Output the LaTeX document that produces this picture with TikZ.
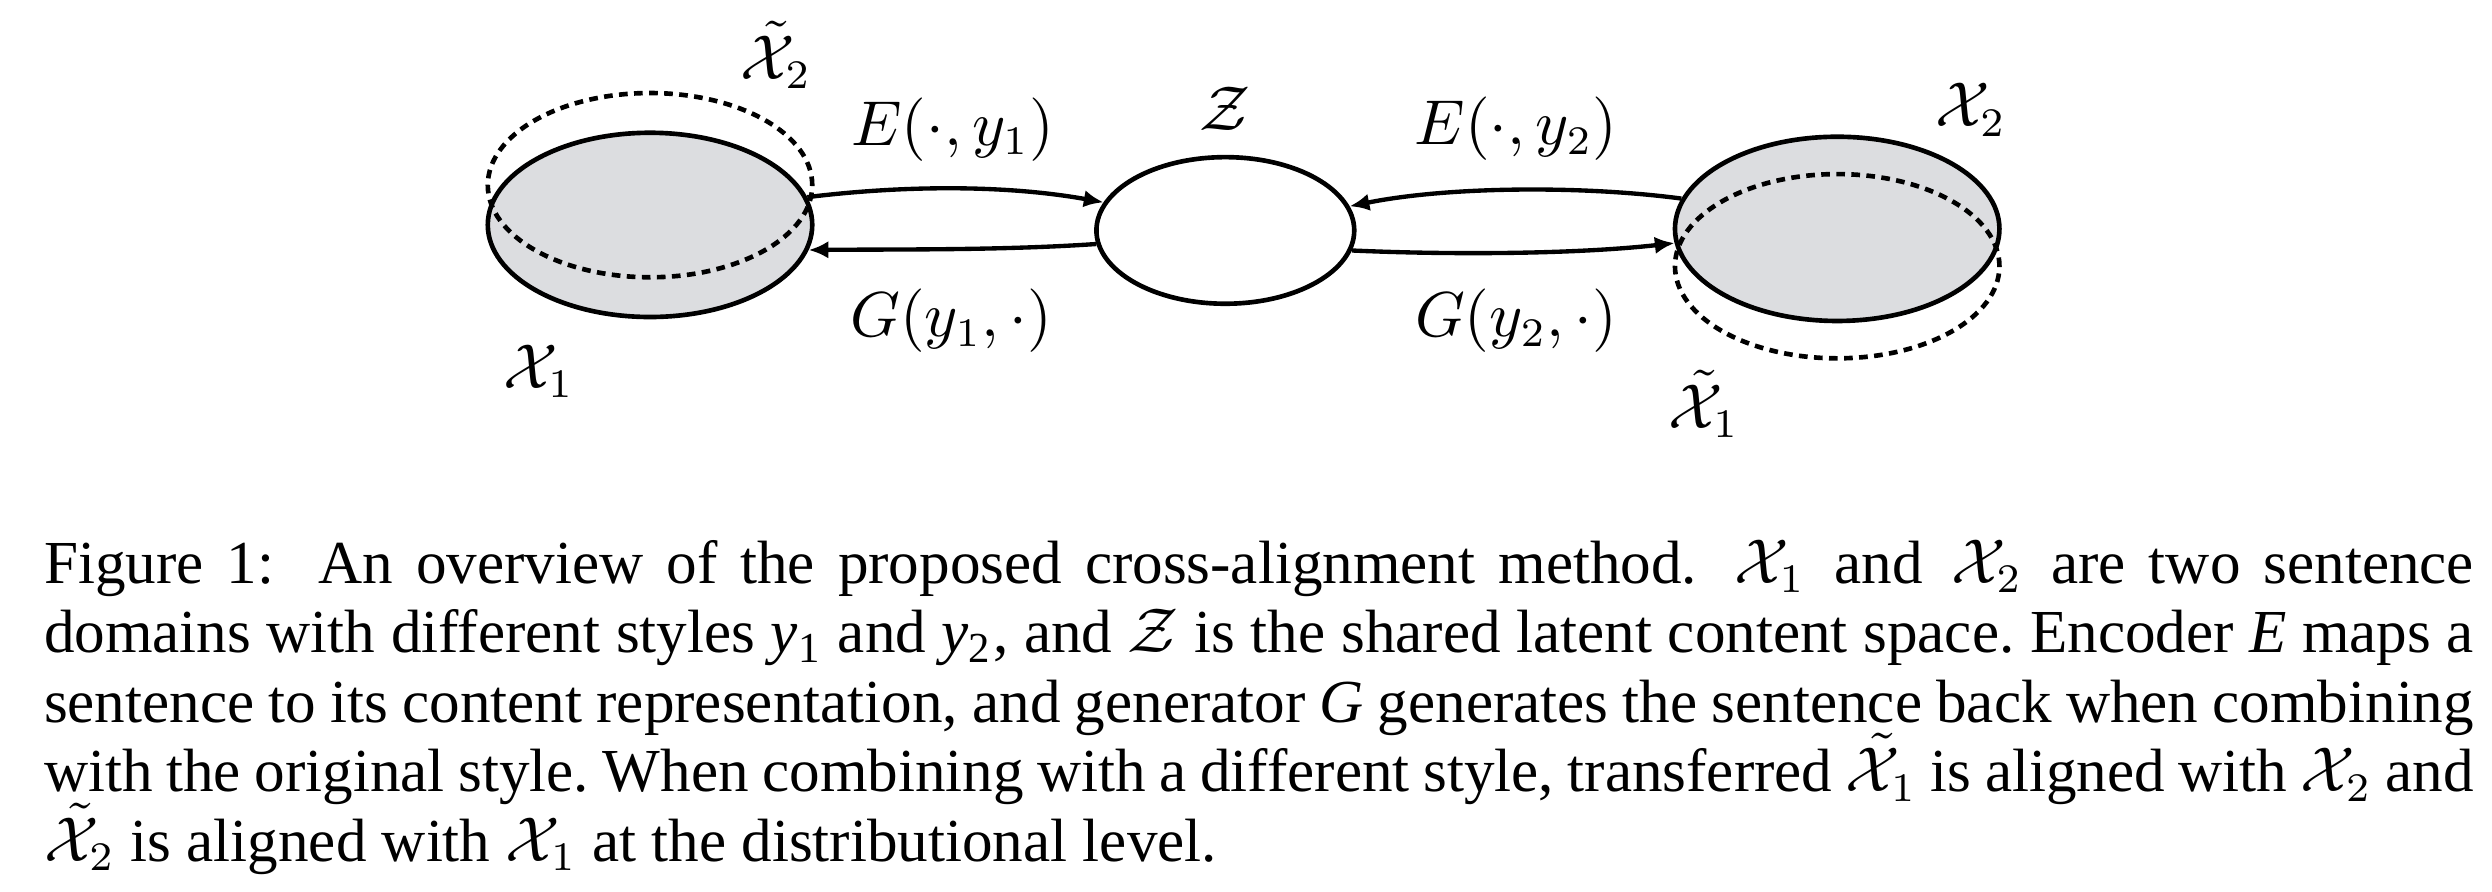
\documentclass[tikz,border=0pt]{standalone}
\usepackage[no-math]{fontspec}
\setmainfont{Liberation Serif}
\usetikzlibrary{shapes.geometric,arrows.meta}
\definecolor{domfill}{RGB}{220,221,224}
\newcommand{\capy}[1]{\mbox{\itshape y}\textsubscript{#1}}
\newcommand{\fullline}[1]{\hbox to 419.4pt{#1}}
\begin{document}
\begin{tikzpicture}[x=0.2743pt,y=-0.2743pt,
  dom/.style={ellipse,draw,line width=0.8pt,fill=domfill,minimum width=56pt,minimum height=31.8pt,inner sep=0pt},
  domdash/.style={ellipse,draw,line width=0.8pt,dash pattern=on 1.5pt off 1.1pt,minimum width=56pt,minimum height=31.8pt,inner sep=0pt},
  lat/.style={ellipse,draw,line width=0.8pt,fill=white,minimum width=44.5pt,minimum height=25.3pt,inner sep=0pt},
  arr/.style={line width=0.75pt,-{Latex[length=3.4pt,width=3pt]}},
  lab/.style={inner sep=0pt,font=\fontsize{10.5}{12}\selectfont},
  capline/.style={inner sep=0pt,anchor=base west,font=\fontsize{10.55}{12.07}\selectfont\frenchspacing}]
\fill[white] (0,0) rectangle (1568,561.25);
\useasboundingbox (0,0) rectangle (1568,561.25);
% domains
\node[dom] (x1) at (409,141.5) {};
\node[domdash] (x2t) at (409,116.5) {};
\node[lat] (z) at (771,145) {};
\node[dom] (x2) at (1156,144) {};
\node[domdash] (x1t) at (1156,167.5) {};
% connectors
\draw[arr] (x1.10) .. controls +(59,-7.3) and +(-63,-11.3) .. (z.167);
\draw[arr] (z.186) .. controls +(-59,4) and +(58,-0.5) .. (x1.-9);
\draw[arr] (x2.169) .. controls +(-61.5,-8.2) and +(62.4,-12.6) .. (z.11);
\draw[arr] (z.-9) .. controls +(62.6,2.8) and +(-62.6,7) .. (x2.185);
% labels
\node[lab] (lx2t) at (488.3,34.5) {$\tilde{\mathcal{X}}_2$};
\node[lab] (le1) at (599.5,81.5) {$E(\cdot,y_1)$};
\node[lab] (lz) at (770.5,68.7) {$\mathcal{Z}$};
\node[lab] (le2) at (954,81) {$E(\cdot,y_2)$};
\node[lab] (lx2) at (1240,69) {$\mathcal{X}_2$};
\node[lab] (lg1) at (598.5,202) {$G(y_1,\cdot)$};
\node[lab] (lg2) at (954,202) {$G(y_2,\cdot)$};
\node[lab] (lx1) at (339,233.5) {$\mathcal{X}_1$};
\node[lab] (lx1t) at (1072,254) {$\tilde{\mathcal{X}}_1$};
% caption
\node[capline] (cap1) at (27,367) {\fullline{Figure 1:\hspace{3.7pt} An overview of the proposed cross-alignment method.\hspace{2.5pt} $\mathcal{X}_1$\hspace{1pt} and\hspace{1pt} $\mathcal{X}_2$\hspace{1pt} are two sentence}};
\node[capline] (cap2) at (27,410.75) {\fullline{domains with different styles \capy{1} and \capy{2}, and $\mathcal{Z}$ is the shared latent content space. Encoder \textit{E} maps a}};
\node[capline] (cap3) at (27,454.5) {\fullline{sentence to its content representation, and generator \textit{G} generates the sentence back when combining}};
\node[capline] (cap4) at (27,498.25) {\fullline{with the original style. When combining with a different style, transferred $\tilde{\mathcal{X}}_1$ is aligned with $\mathcal{X}_2$ and}};
\node[capline] (cap5) at (27,542) {$\tilde{\mathcal{X}}_2$ is aligned with $\mathcal{X}_1$ at the distributional level.};
\end{tikzpicture}
\end{document}
